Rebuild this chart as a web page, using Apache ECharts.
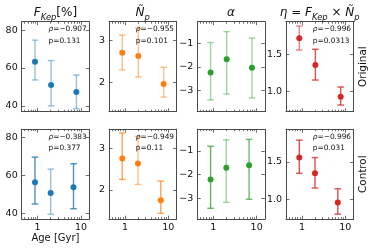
<!DOCTYPE html>
<html><head><meta charset="utf-8">
<script src="https://cdn.jsdelivr.net/npm/echarts@6/dist/echarts.min.js"></script>
<style>html,body{margin:0;padding:0;background:#fff}#c{width:374px;height:251px}</style>
</head><body><div id="c"></div>
<script>
// ---------- data ----------
const agesOriginal = [0.87, 2.04, 7.8];
const agesControl  = [0.87, 2.0, 6.7];

const fkepOriginal   = [63.3, 51.0, 47.4];
const fkepOriginalLo = [53.7, 40.0, 38.6];
const fkepOriginalHi = [74.7, 63.9, 56.3];
const fkepControl    = [56.4, 50.8, 53.8];
const fkepControlLo  = [45.0, 39.6, 42.5];
const fkepControlHi  = [69.7, 63.4, 66.2];

const npOriginal   = [2.71, 2.63, 1.96];
const npOriginalLo = [2.30, 2.13, 1.65];
const npOriginalHi = [3.13, 3.29, 2.36];
const npControl    = [2.75, 2.63, 1.75];
const npControlLo  = [2.25, 2.13, 1.44];
const npControlHi  = [3.36, 3.28, 2.21];

const alphaOriginal   = [-2.24, -1.68, -2.03];
const alphaOriginalLo = [-3.39, -3.14, -3.31];
const alphaOriginalHi = [-0.97, -0.51, -0.78];
const alphaControl    = [-2.21, -1.72, -1.61];
const alphaControlLo  = [-3.43, -3.18, -3.05];
const alphaControlHi  = [-0.81, -0.54, -0.52];

const etaOriginal   = [1.714, 1.357, 0.933];
const etaOriginalLo = [1.557, 1.156, 0.822];
const etaOriginalHi = [1.878, 1.567, 1.063];
const etaControl    = [1.557, 1.346, 0.955];
const etaControlLo  = [1.346, 1.149, 0.800];
const etaControlHi  = [1.790, 1.557, 1.140];

const statsOriginal = [['−0.907', '0.131'], ['−0.955', '0.101'], null, ['−0.996', '0.0313']];
const statsControl  = [['−0.383', '0.377'], ['−0.949', '0.11'], null, ['−0.996', '0.031']];

const xMajorTicks = [1, 10];
const xMinorTicks = [0.5, 0.6, 0.7, 0.8, 0.9, 2, 3, 4, 5, 6, 7, 8, 9];
const fkepTicks  = [40, 60, 80];
const npTicks    = [2, 3];
const alphaTicks = [-3, -2, -1];
const etaTicks   = [1.0, 1.5];
const rowNames = ['Original', 'Control'];
const xAxisTitle = 'Age [Gyr]';

// ---------- style / layout ----------
const colLeft = [21.7, 109, 197.3, 286];
const rowTop = [21.7, 129.2];
const PW = 67.5, PH = 90;
const frame = '#4a4a4a';
const font = 'DejaVu Sans';
const colors = ['#1f77b4', '#ff7f0e', '#2ca02c', '#d62728'];
const cols = [
  { ticks: fkepTicks, range: [37, 84.4], dec: 0,
    data: [[fkepOriginal, fkepOriginalLo, fkepOriginalHi], [fkepControl, fkepControlLo, fkepControlHi]],
    title: '{i|F}{s|Kep}{n|[%]}' },
  { ticks: npTicks, range: [1.30, 3.45], dec: 0,
    data: [[npOriginal, npOriginalLo, npOriginalHi], [npControl, npControlLo, npControlHi]],
    title: '{i|Ñ}{s|p}' },
  { ticks: alphaTicks, range: [-3.89, -0.09], dec: 0,
    data: [[alphaOriginal, alphaOriginalLo, alphaOriginalHi], [alphaControl, alphaControlLo, alphaControlHi]],
    title: '{i|α}' },
  { ticks: etaTicks, range: [0.733, 1.936], dec: 1,
    data: [[etaOriginal, etaOriginalLo, etaOriginalHi], [etaControl, etaControlLo, etaControlHi]],
    title: '{i|η}{n| = }{i|F}{s|Kep}{n| × }{i|Ñ}{s|p}' }
];
const barAlpha = [
  [[0.45, 0.45, 0.45], [0.5, 0.5, 0.5], [0.45, 0.45, 0.45], [0.55, 0.8, 0.8]],
  [[0.8, 0.45, 0.8], [0.7, 0.5, 0.7], [0.75, 0.45, 0.7], [0.8, 0.8, 0.8]]
];
const rowAges = [agesOriginal, agesControl];
const rowStats = [statsOriginal, statsControl];

const grid = [], xAxis = [], yAxis = [], series = [], graphic = [];
const xRange = [0.43, 15.4];

function xAx(gi, pos, ticks, len, showLine, labels, name) {
  return {
    type: 'log', gridIndex: gi, position: pos, min: xRange[0], max: xRange[1], logBase: 10,
    axisLine: { show: showLine, lineStyle: { color: frame, width: 1 } },
    axisTick: { show: true, inside: true, length: len, customValues: ticks, lineStyle: { color: frame, width: 0.8 } },
    axisLabel: labels ? { show: true, customValues: xMajorTicks, margin: 3, color: '#111', fontFamily: font, fontSize: 9.5,
      formatter: v => String(v) } : { show: false },
    splitLine: { show: false }, minorTick: { show: false },
    name: name || '', nameLocation: 'middle', nameGap: 13,
    nameTextStyle: { fontFamily: font, fontSize: 10, color: '#111' }
  };
}

for (let r = 0; r < 2; r++) {
  for (let c = 0; c < 4; c++) {
    const col = cols[c];
    const gA = grid.length;
    grid.push({ left: colLeft[c], top: rowTop[r], width: PW, height: PH });
    grid.push({ left: colLeft[c], top: rowTop[r], width: PW, height: PH });
    const gB = gA + 1;
    const xi = xAxis.length, yi = yAxis.length;
    xAxis.push(xAx(gA, 'bottom', xMajorTicks, 3.5, true, r === 1, (r === 1 && c === 0) ? xAxisTitle : ''));
    xAxis.push(xAx(gA, 'top', xMajorTicks, 3.5, true, false));
    xAxis.push(xAx(gB, 'bottom', xMinorTicks, 2, false, false));
    xAxis.push(xAx(gB, 'top', xMinorTicks, 2, false, false));
    const yBase = { type: 'value', min: col.range[0], max: col.range[1], splitLine: { show: false } };
    yAxis.push(Object.assign({}, yBase, { gridIndex: gA, position: 'left',
      axisLine: { show: true, lineStyle: { color: frame, width: 1 } },
      axisTick: { show: true, inside: true, length: 3.5, customValues: col.ticks, lineStyle: { color: frame, width: 0.8 } },
      axisLabel: { show: true, customValues: col.ticks, margin: 4, color: '#111', fontFamily: font, fontSize: 9.5,
        formatter: v => (col.dec ? Number(v).toFixed(col.dec) : String(Math.round(v))).replace('-', '−') } }));
    yAxis.push(Object.assign({}, yBase, { gridIndex: gA, position: 'right',
      axisLine: { show: true, lineStyle: { color: frame, width: 1 } },
      axisTick: { show: true, inside: true, length: 3.5, customValues: col.ticks, lineStyle: { color: frame, width: 0.8 } },
      axisLabel: { show: false } }));
    yAxis.push(Object.assign({}, yBase, { gridIndex: gB, show: false }));

    const [vals, lo, hi] = col.data[r];
    const ages = rowAges[r];
    const alphas = barAlpha[r][c];
    const color = colors[c];
    series.push({
      type: 'custom', xAxisIndex: xi, yAxisIndex: yi, z: 2,
      data: ages.map((a, i) => [a, lo[i], hi[i], i]),
      renderItem: (params, api) => {
        const x = api.value(0);
        const p1 = api.coord([x, api.value(1)]);
        const p2 = api.coord([x, api.value(2)]);
        const op = alphas[api.value(3)];
        const cap = 3.3;
        const st = { stroke: color, lineWidth: 1.4, opacity: op };
        return { type: 'group', children: [
          { type: 'line', shape: { x1: p1[0], y1: p1[1], x2: p2[0], y2: p2[1] }, style: st },
          { type: 'line', shape: { x1: p1[0] - cap, y1: p1[1], x2: p1[0] + cap, y2: p1[1] }, style: st },
          { type: 'line', shape: { x1: p2[0] - cap, y1: p2[1], x2: p2[0] + cap, y2: p2[1] }, style: st }
        ] };
      }
    });
    series.push({
      type: 'scatter', xAxisIndex: xi, yAxisIndex: yi, z: 3,
      symbol: 'circle', symbolSize: 6, itemStyle: { color: color, opacity: 1 },
      data: ages.map((a, i) => [a, vals[i]])
    });

    const st = rowStats[r][c];
    if (st) {
      graphic.push({ type: 'text', x: colLeft[c] + 26.8, y: rowTop[r] + 7.6, z: 10,
        style: { text: '{i|ρ}{n|=' + st[0] + '}', fill: '#111', verticalAlign: 'middle', align: 'left',
          rich: { i: { fontStyle: 'italic', fontFamily: font, fontSize: 7.4 },
                  n: { fontFamily: font, fontSize: 7.4 } } } });
      graphic.push({ type: 'text', x: colLeft[c] + 26.8, y: rowTop[r] + 19.3, z: 10,
        style: { text: 'p=' + st[1], fill: '#111', verticalAlign: 'middle', align: 'left',
          fontFamily: font, fontSize: 7.4 } });
    }
    if (r === 0) {
      graphic.push({ type: 'text', x: colLeft[c] + PW / 2, y: 13.3, z: 10,
        style: { text: col.title, align: 'center', verticalAlign: 'middle', fill: '#111',
          rich: {
            i: { fontStyle: 'italic', fontFamily: font, fontSize: 12, lineHeight: 18, verticalAlign: 'middle' },
            n: { fontFamily: font, fontSize: 12, lineHeight: 18, verticalAlign: 'middle' },
            s: { fontStyle: 'italic', fontFamily: font, fontSize: 8.4, lineHeight: 9, verticalAlign: 'bottom' }
          } } });
    }
  }
  graphic.push({ type: 'text', x: 363, y: rowTop[r] + PH / 2, rotation: Math.PI / 2, z: 10,
    style: { text: rowNames[r], align: 'center', verticalAlign: 'middle', fill: '#111',
      fontFamily: font, fontSize: 10.4 } });
}

const chart = echarts.init(document.getElementById('c'), null, { renderer: 'canvas' });
chart.setOption({ animation: false, backgroundColor: '#fff', grid, xAxis, yAxis, series, graphic });
</script></body></html>
